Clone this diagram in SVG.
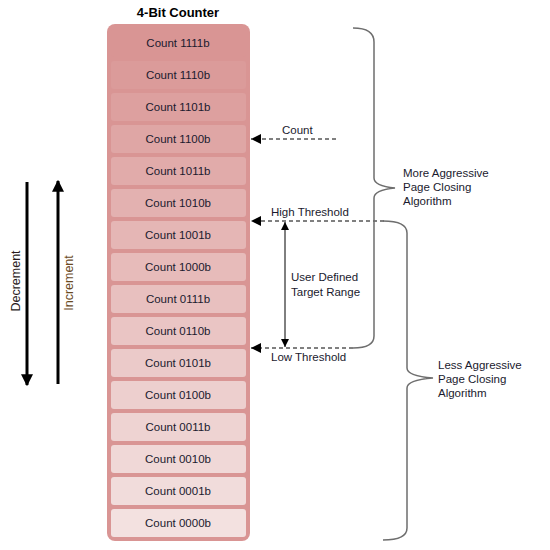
<svg xmlns="http://www.w3.org/2000/svg" width="550" height="550" viewBox="0 0 550 550">
<style>
.t{font-family:"Liberation Sans",Arial,sans-serif;font-size:11.5px;fill:#1a1a2e}
.c{text-anchor:middle}
.dash{stroke:#000;stroke-width:1;stroke-dasharray:4,3;fill:none}
.brace{stroke:#6e6e6e;stroke-width:1.5;fill:none}
</style>
<defs>
<marker id="ah" viewBox="0 0 10 10" refX="10" refY="5" markerWidth="10" markerHeight="10" markerUnits="userSpaceOnUse" orient="auto"><path d="M0,0 L10,5 L0,10 z" fill="#000"/></marker>
<marker id="ah2" viewBox="0 0 10 10" refX="10" refY="5" markerWidth="8" markerHeight="10" markerUnits="userSpaceOnUse" orient="auto"><path d="M0,0 L10,5 L0,10 z" fill="#000"/></marker>
<marker id="ah3" viewBox="0 0 10 10" refX="9" refY="5" markerWidth="4" markerHeight="4" orient="auto"><path d="M0,0 L10,5 L0,10 z" fill="#000"/></marker>
</defs>
<text x="178" y="17" class="t c" style="font-weight:bold;font-size:13px;fill:#000">4-Bit Counter</text>
<g id="counter">
<rect x="107" y="24" width="143" height="517" rx="8" fill="#d99594"/>
</g>
<g id="cells">
<g id="c1111"><rect x="111" y="29" width="135" height="28" rx="3" fill="#d99594"/><text x="178" y="47" class="t c">Count 1111b</text></g>
<g id="c1110"><rect x="111" y="61" width="135" height="28" rx="3" fill="#db9b9a"/><text x="178" y="79" class="t c">Count 1110b</text></g>
<g id="c1101"><rect x="111" y="93" width="135" height="28" rx="3" fill="#dda09f"/><text x="178" y="111" class="t c">Count 1101b</text></g>
<g id="c1100"><rect x="111" y="125" width="135" height="28" rx="3" fill="#dfa6a5"/><text x="178" y="143" class="t c">Count 1100b</text></g>
<g id="c1011"><rect x="111" y="157" width="135" height="28" rx="3" fill="#e1abaa"/><text x="178" y="175" class="t c">Count 1011b</text></g>
<g id="c1010"><rect x="111" y="189" width="135" height="28" rx="3" fill="#e3b1b0"/><text x="178" y="207" class="t c">Count 1010b</text></g>
<g id="c1001"><rect x="111" y="221" width="135" height="28" rx="3" fill="#e5b6b5"/><text x="178" y="239" class="t c">Count 1001b</text></g>
<g id="c1000"><rect x="111" y="253" width="135" height="28" rx="3" fill="#e7bbba"/><text x="178" y="271" class="t c">Count 1000b</text></g>
<g id="c0111"><rect x="111" y="285" width="135" height="28" rx="3" fill="#e8c0bf"/><text x="178" y="303" class="t c">Count 0111b</text></g>
<g id="c0110"><rect x="111" y="317" width="135" height="28" rx="3" fill="#eac5c4"/><text x="178" y="335" class="t c">Count 0110b</text></g>
<g id="c0101"><rect x="111" y="349" width="135" height="28" rx="3" fill="#ebcac9"/><text x="178" y="367" class="t c">Count 0101b</text></g>
<g id="c0100"><rect x="111" y="381" width="135" height="28" rx="3" fill="#edcfce"/><text x="178" y="399" class="t c">Count 0100b</text></g>
<g id="c0011"><rect x="111" y="413" width="135" height="28" rx="3" fill="#eed3d2"/><text x="178" y="431" class="t c">Count 0011b</text></g>
<g id="c0010"><rect x="111" y="445" width="135" height="28" rx="3" fill="#f0d8d7"/><text x="178" y="463" class="t c">Count 0010b</text></g>
<g id="c0001"><rect x="111" y="477" width="135" height="28" rx="3" fill="#f1dcdb"/><text x="178" y="495" class="t c">Count 0001b</text></g>
<g id="c0000"><rect x="111" y="509" width="135" height="28" rx="3" fill="#f3e1e0"/><text x="178" y="527" class="t c">Count 0000b</text></g>
</g>
<g id="connectors">
<line x1="336" y1="139" x2="251" y2="139" class="dash" marker-end="url(#ah)"/>
<line x1="384" y1="221" x2="251" y2="221" class="dash" marker-end="url(#ah)"/>
<line x1="353" y1="348" x2="251" y2="348" class="dash" marker-end="url(#ah)"/>
<line x1="285" y1="285" x2="285" y2="222" stroke="#000" stroke-width="1" marker-end="url(#ah2)"/>
<line x1="285" y1="285" x2="285" y2="347" stroke="#000" stroke-width="1" marker-end="url(#ah2)"/>
<line x1="27" y1="182" x2="27" y2="385" stroke="#000" stroke-width="3" marker-end="url(#ah3)"/>
<line x1="58" y1="384" x2="58" y2="181" stroke="#000" stroke-width="3" marker-end="url(#ah3)"/>
<path class="brace" d="M353,28 Q374,28 374,42 L374,178 Q374,186 395,188 Q374,190 374,198 L374,336 Q374,348 353,348"/>
<path class="brace" d="M383,221 Q407,221 407,233 L407,368 Q407,376 433,378 Q407,380 407,388 L407,528 Q407,540 383,540"/>
</g>
<g id="labels">
<text x="282" y="134" class="t">Count</text>
<text x="271" y="216" class="t">High Threshold</text>
<text x="271" y="361" class="t">Low Threshold</text>
<text x="291" y="281" class="t">User Defined</text>
<text x="291" y="296" class="t">Target Range</text>
<text x="403" y="177" class="t">More Aggressive</text>
<text x="403" y="191" class="t">Page Closing</text>
<text x="403" y="205" class="t">Algorithm</text>
<text x="438" y="369" class="t">Less Aggressive</text>
<text x="438" y="383" class="t">Page Closing</text>
<text x="438" y="397" class="t">Algorithm</text>
<text transform="translate(20,281) rotate(-90)" class="t c" style="fill:#2a1a1a;font-size:12.5px">Decrement</text>
<text transform="translate(73,283) rotate(-90)" class="t c" style="fill:#6b4a1f;font-size:12.5px">Increment</text>
</g>
</svg>
